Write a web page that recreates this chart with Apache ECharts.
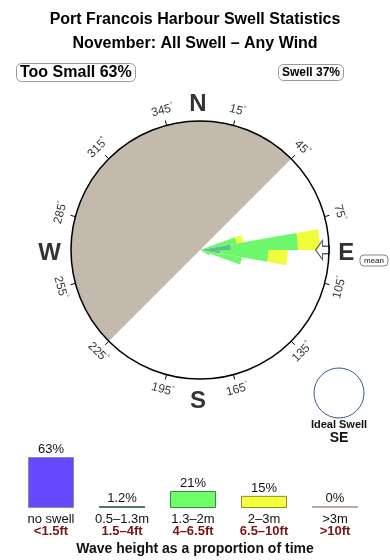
<!DOCTYPE html>
<html>
<head>
<meta charset="utf-8">
<script src="https://cdn.jsdelivr.net/npm/echarts@6/dist/echarts.min.js"></script>
<style>html,body{margin:0;padding:0;background:#fff}#c{width:390px;height:560px}</style>
</head>
<body>
<div id="c"></div>
<script>
// ---- data ----
const titleLine1 = 'Port Francois Harbour Swell Statistics';
const titleLine2 = 'November: All Swell \u2013 Any Wind';
const tooSmallPct = 63;
const swellPct = 37;
// sheltered (too small) sector, compass degrees, drawn clockwise from -> to
const shadowFrom = 225;
const shadowTo = 45;
// degree tick labels on the rose
const tickDeg = [15, 45, 75, 105, 135, 165, 195, 225, 255, 285, 315, 345];
const cardinalNames = ['N', 'E', 'S', 'W'];
const cardinalDeg = [0, 90, 180, 270];
// rose petals: 10 degree bins (start of bin), stacked radial lengths (rose units, rim = 100)
const binStart = [70, 80, 90, 100, 110];
const tealLen = [0, 24, 16, 0, 0];
const greenLen = [29, 52, 37, 33, 8];
const yellowLen = [5, 17, 15, 0, 0];
const meanDir = 90;
// wave-height legend
const heightCats = ['no swell', '0.5\u20131.3m', '1.3\u20132m', '2\u20133m', '>3m'];
const heightFt = ['<1.5ft', '1.5\u20134ft', '4\u20136.5ft', '6.5\u201310ft', '>10ft'];
const heightPct = [63, 1.2, 21, 15, 0];

// ---- build ----
const FONT = 'Liberation Sans, Arial, Helvetica, sans-serif';
const binCats = [];
for (let a = 0; a < 360; a += 10) binCats.push(String(a));
function binArray(vals) {
  const arr = binCats.map(() => 0);
  binStart.forEach((b, i) => { arr[b / 10] = vals[i]; });
  return arr;
}
const barColors = ['#6648ff', '#557766', '#6cff6a', '#f2ff3a', '#bba8a0'];
const barBorders = ['#8a8a9a', '#557766', '#3d8a3d', '#8a8a30', '#bba8a0'];

const chart = echarts.init(document.getElementById('c'), null, {renderer: 'canvas'});
const CENTER = [200, 250];
const R = 129;
const OUTER = 1.3; // label ring scale (units up to 130)

const hiddenRadius = (idx, max) => ({polarIndex: idx, type: 'value', min: 0, max: max,
  axisLine: {show: false}, axisTick: {show: false}, axisLabel: {show: false}, splitLine: {show: false}});

chart.setOption({
  animation: false,
  backgroundColor: '#ffffff',
  textStyle: {fontFamily: FONT},
  title: [
    {text: titleLine1, left: 'center', top: 7, textStyle: {fontSize: 16, fontWeight: 'bold', color: '#000', fontFamily: FONT}},
    {text: titleLine2, left: 'center', top: 31, textStyle: {fontSize: 16, fontWeight: 'bold', color: '#000', fontFamily: FONT}},
    {text: 'Too Small ' + tooSmallPct + '%', left: 16, top: 63, padding: [2, 4, 1, 4], borderColor: '#999', borderWidth: 1, borderRadius: 5,
      textStyle: {fontSize: 16, fontWeight: 'bold', color: '#000', fontFamily: FONT}},
    {text: 'Swell ' + swellPct + '%', left: 278, top: 64, padding: [3, 4, 2, 4], borderColor: '#999', borderWidth: 1, borderRadius: 5,
      textStyle: {fontSize: 12, fontWeight: 'bold', color: '#000', fontFamily: FONT}},
    {text: 'Wave height as a proportion of time', left: 'center', top: 537, textStyle: {fontSize: 14, fontWeight: 'bold', color: '#111', fontFamily: FONT}}
  ],
  polar: [
    {center: CENTER, radius: R},
    {center: CENTER, radius: R},
    {center: CENTER, radius: R * OUTER}
  ],
  angleAxis: [
    {polarIndex: 0, type: 'value', min: 0, max: 360, startAngle: 90, clockwise: true, z: 10,
      axisLine: {show: true, lineStyle: {color: '#000', width: 1.5}},
      axisTick: {show: true, length: 5, inside: false, customValues: tickDeg, lineStyle: {color: '#000', width: 1}},
      axisLabel: {show: false}, splitLine: {show: false}},
    {polarIndex: 1, type: 'category', data: binCats, startAngle: 90, clockwise: true, boundaryGap: true,
      axisLine: {show: false}, axisTick: {show: false}, axisLabel: {show: false}, splitLine: {show: false}},
    {polarIndex: 2, type: 'value', min: 0, max: 360, startAngle: 90, clockwise: true,
      axisLine: {show: false}, axisTick: {show: false}, axisLabel: {show: false}, splitLine: {show: false}}
  ],
  radiusAxis: [hiddenRadius(0, 100), hiddenRadius(1, 100), hiddenRadius(2, 100 * OUTER)],
  grid: {left: 15.5, right: 19.5, top: 457, height: 51},
  xAxis: {type: 'category', data: heightCats, axisLine: {show: false}, axisTick: {show: false},
    axisLabel: {interval: 0, margin: 5,
      formatter: (v, i) => '{a|' + v + '}\n{b|' + heightFt[i] + '}',
      rich: {a: {fontSize: 13, color: '#111', lineHeight: 12, fontFamily: FONT},
             b: {fontSize: 13, color: '#7a1414', fontWeight: 'bold', lineHeight: 12, fontFamily: FONT}}}},
  yAxis: {type: 'value', min: 0, max: 63, show: false, splitLine: {show: false}},
  graphic: [
    {type: 'circle', shape: {cx: 339, cy: 393, r: 25}, style: {fill: '#fff', stroke: '#3d5c85', lineWidth: 1}},
    {type: 'text', x: 339, y: 425, style: {text: 'Ideal Swell', fontSize: 11, fontWeight: 'bold', fill: '#111', align: 'center', verticalAlign: 'middle', fontFamily: FONT}},
    {type: 'text', x: 339, y: 438, style: {text: 'SE', fontSize: 14, fontWeight: 'bold', fill: '#111', align: 'center', verticalAlign: 'middle', fontFamily: FONT}},
    {type: 'rect', shape: {x: 360, y: 255, width: 28, height: 11, r: 4}, style: {fill: '#fff', stroke: '#666', lineWidth: 0.8}},
    {type: 'text', x: 374, y: 261, style: {text: 'mean', fontSize: 8, fill: '#111', align: 'center', verticalAlign: 'middle', fontFamily: FONT}}
  ],
  series: [
    {type: 'custom', coordinateSystem: 'polar', polarIndex: 0, z: 1, silent: true,
      data: [[shadowFrom, shadowTo]],
      renderItem: (params, api) => {
        const from = api.value(0);
        let to = api.value(1);
        if (to <= from) to += 360;
        const pts = [api.coord([0, 0])];
        for (let a = from; a <= to; a += 1) pts.push(api.coord([100, a % 360]));
        return {type: 'polygon', shape: {points: pts}, style: {fill: '#c4b9ad', stroke: '#d8d0c8', lineWidth: 0.6}};
      }},
    {type: 'bar', coordinateSystem: 'polar', polarIndex: 1, stack: 'rose', barCategoryGap: '0%', z: 3,
      data: binArray(tealLen), itemStyle: {color: '#62c08c'}},
    {type: 'bar', coordinateSystem: 'polar', polarIndex: 1, stack: 'rose', barCategoryGap: '0%', z: 3,
      data: binArray(greenLen), itemStyle: {color: '#6cf86a'}},
    {type: 'bar', coordinateSystem: 'polar', polarIndex: 1, stack: 'rose', barCategoryGap: '0%', z: 3,
      data: binArray(yellowLen), itemStyle: {color: '#f2fb3c'}},
    {type: 'scatter', coordinateSystem: 'polar', polarIndex: 0, z: 5, silent: true,
      symbol: 'path://M0,10 L7,0 L7,6 L14,6 L14,14 L7,14 L7,20 Z',
      symbolSize: [14, 19], symbolRotate: 90 - meanDir,
      itemStyle: {color: '#fff', borderColor: '#2a3a50', borderWidth: 1.2},
      data: [[95, meanDir]]},
    {type: 'scatter', coordinateSystem: 'polar', polarIndex: 2, z: 5, silent: true, symbolSize: 1,
      itemStyle: {color: 'rgba(0,0,0,0)'},
      data: tickDeg.map(d => ({value: [112, d], label: {rotate: (d > 90 && d < 270) ? 180 - d : -d}})),
      label: {show: true, position: 'inside',
        formatter: p => '{n|' + p.value[1] + '}{d|\u00b0}',
        rich: {n: {fontSize: 12, color: '#000', fontFamily: FONT}, d: {fontSize: 7, color: '#000', verticalAlign: 'top', padding: [0, 0, 7, 0], fontFamily: FONT}}}},
    {type: 'scatter', coordinateSystem: 'polar', polarIndex: 2, z: 5, silent: true, symbolSize: 1,
      itemStyle: {color: 'rgba(0,0,0,0)'},
      data: cardinalDeg.map((d, i) => ({value: [115, d], name: cardinalNames[i]})),
      label: {show: true, position: 'inside', offset: [-2, 3], formatter: p => p.name, fontSize: 24, fontWeight: 'bold', color: '#000', fontFamily: FONT}},
    {type: 'bar', xAxisIndex: 0, yAxisIndex: 0, barWidth: 46, barMinHeight: 2,
      data: heightPct.map((v, i) => ({value: v, itemStyle: {color: barColors[i], borderColor: barBorders[i], borderWidth: (v > 2 ? 1 : 0)}})),
      label: {show: true, position: 'top', distance: 1, formatter: p => p.value + '%', fontSize: 13, color: '#111', fontFamily: FONT}}
  ]
});
</script>
</body>
</html>
